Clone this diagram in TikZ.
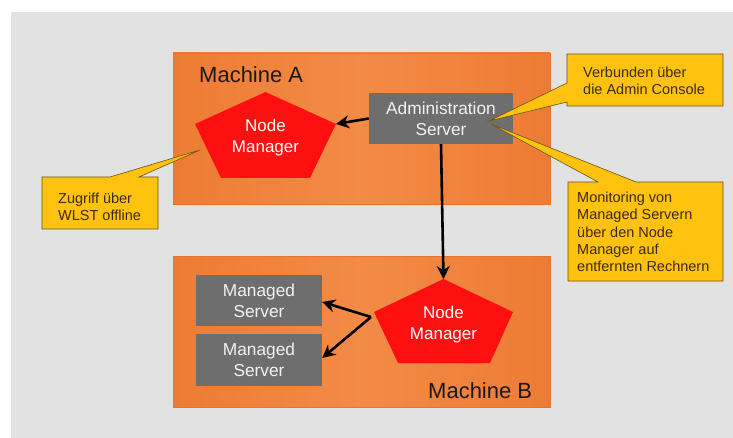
\documentclass[tikz,border=0pt]{standalone}
\usepackage{fontspec}
\setmainfont{Liberation Sans}
\usetikzlibrary{arrows.meta,calc}
\definecolor{bggray}{HTML}{E1E2E1}
\definecolor{orA}{HTML}{EE7B34}
\definecolor{orB}{HTML}{F28B47}
\definecolor{orEdge}{HTML}{E8732C}
\definecolor{nmred}{HTML}{FF1010}
\definecolor{srvgray}{HTML}{6E6E6E}
\definecolor{srvtext}{HTML}{F2F2F2}
\definecolor{callfill}{HTML}{FFC20E}
\definecolor{calldraw}{HTML}{6B5218}
\definecolor{calltext}{HTML}{3A2A12}
\tikzset{
  machine/.style={shape=rectangle, minimum width=377pt, minimum height=151pt, inner sep=0pt,
    left color=orA, right color=orA, middle color=orB, draw=orEdge, line width=0.6pt},
  machlabel/.style={anchor=base west, inner sep=0pt, font=\fontsize{22}{26}\selectfont, text=black!90},
  srvbox/.style={shape=rectangle, fill=srvgray, text=srvtext, align=center, inner sep=0pt,
    font=\fontsize{17.3}{21}\selectfont},
  nmtext/.style={align=center, inner sep=0pt, text=white, font=\fontsize{17}{21}\selectfont},
  pent/.style={fill=nmred},
  callout/.style={fill=callfill, draw=calldraw, line width=0.6pt, line join=miter},
  calltxt/.style={anchor=north west, align=left, inner sep=0pt, text=calltext,
    font=\fontsize{14.5}{17.4}\selectfont},
  conn/.style={draw=black, line width=2.6pt, -{Stealth[length=13pt,width=13pt]}}
}
\begin{document}
\begin{tikzpicture}[x=1pt,y=-1pt]
\useasboundingbox (0,0) rectangle (733,438);
\fill[white] (0,0) rectangle (733,438);
\fill[bggray] (11,12) rectangle (733,438);

% machines
\node[machine] (machA) at (361.5,128.5) {};
\node[machine] (machB) at (361.5,332) {};
\node[machlabel] (labA) at (199,83) {Machine A};
\node[machlabel] (labB) at (428,398) {Machine B};

% pentagon A
\coordinate (nmAtop) at (265.5,92);
\coordinate (nmAright) at (336,124);
\coordinate (nmAleft) at (195,124);
\fill[pent] (nmAtop) -- (nmAright) -- (310,178) -- (221,178) -- (nmAleft) -- cycle;
\node[nmtext] (nmA) at (265.5,138) {Node\\Manager};

% pentagon B
\coordinate (nmBtop) at (443.5,279);
\coordinate (nmBright) at (513,312);
\coordinate (nmBleft) at (374,312);
\fill[pent] (nmBtop) -- (nmBright) -- (490,363) -- (398,363) -- (nmBleft) -- cycle;
\node[nmtext] (nmB) at (443.5,325) {Node\\Manager};
\coordinate (nmBsrc) at (371,317);

% servers
\node[srvbox, minimum width=144pt, minimum height=51pt] (admin) at (441,118.5) {Administration\\Server};
\node[srvbox, minimum width=126pt, minimum height=51pt] (ms1) at (259,300.5) {Managed\\Server};
\node[srvbox, minimum width=126pt, minimum height=52pt] (ms2) at (259,360) {Managed\\Server};

% connectors
\draw[conn] (admin.west) -- (nmAright);
\draw[conn] (admin.south) -- (nmBtop);
\draw[conn] (nmBsrc) -- ($(ms1.east)+(0,1.5)$);
\draw[conn] (nmBsrc) -- ($(ms2.east)+(0,-2)$);

% callouts
\coordinate (tipV) at (489,121);
\coordinate (tipM) at (491,124);
\coordinate (tipZ) at (200,150);
\filldraw[callout] (567,54) -- (723,54) -- (723,106) -- (567,106) -- (567,102) -- (tipV) -- (567,83) -- cycle;
\filldraw[callout] (568,182) -- (598,182) -- (tipM) -- (636,182) -- (723,182) -- (723,281) -- (568,281) -- cycle;
\filldraw[callout] (42,177) -- (110,177) -- (tipZ) -- (139,177) -- (158,177) -- (158,229) -- (42,229) -- cycle;

\node[calltxt] (tV) at (583,66.5) {Verbunden über\\die Admin Console};
\node[calltxt] (tM) at (577,191.5) {Monitoring von\\Managed Servern\\über den Node\\Manager auf\\entfernten Rechnern};
\node[calltxt] (tZ) at (58,192.5) {Zugriff über\\WLST offline};
\end{tikzpicture}
\end{document}
